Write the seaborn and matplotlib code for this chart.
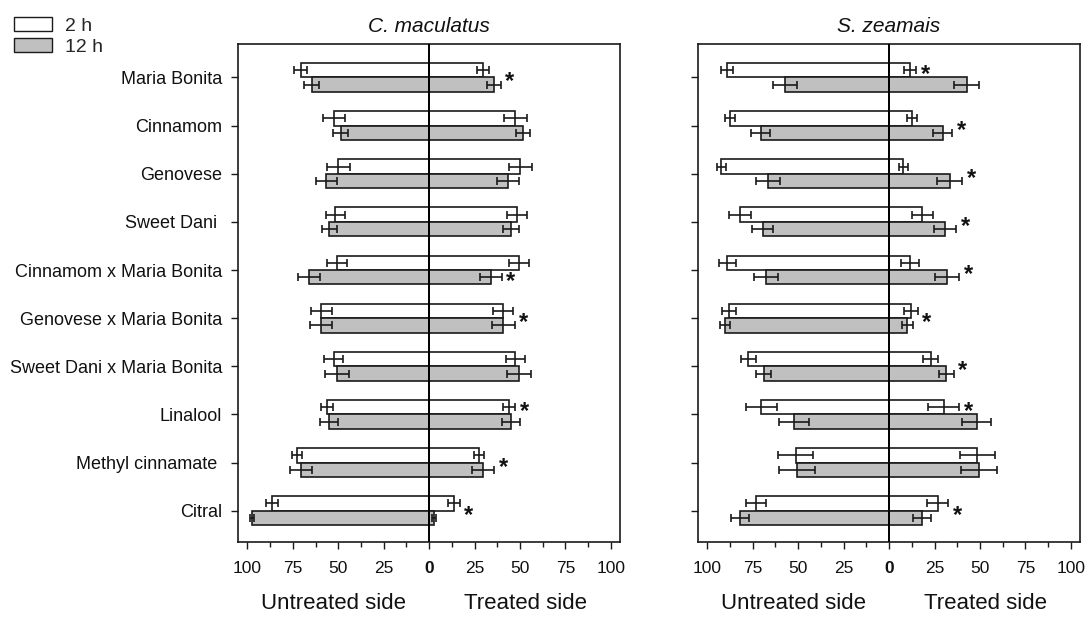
import numpy as np
import pandas as pd
import matplotlib
matplotlib.use("Agg")
import matplotlib.pyplot as plt
import matplotlib.transforms as mtransforms
from matplotlib.patches import Patch
import seaborn as sns

# ---------------- data ----------------
categories = ["Maria Bonita", "Cinnamom", "Genovese", "Sweet Dani ",
              "Cinnamom x Maria Bonita", "Genovese x Maria Bonita",
              "Sweet Dani x Maria Bonita", "Linalool", "Methyl cinnamate ",
              "Citral"]
times = ["2 h", "12 h"]
titles = ["C. maculatus", "S. zeamais"]
xtick_values = [-100, -75, -50, -25, 0, 25, 50, 75, 100]
xtick_labels = ["100", "75", "50", "25", "0", "25", "50", "75", "100"]

# C. maculatus
cm_untreated_2h = [70.6, 52.5, 49.9, 51.7, 50.6, 59.3, 52.5, 56.1, 72.5, 86.6]
cm_untreated_2h_err = [3.6, 6.1, 6.1, 5.3, 5.4, 5.6, 5.2, 3.3, 2.8, 3.2]
cm_treated_2h = [29.7, 47.5, 50.1, 48.3, 49.7, 40.9, 47.5, 44.2, 27.5, 13.6]
cm_treated_2h_err = [3.5, 6.2, 6.3, 5.4, 5.5, 5.5, 5.4, 3.3, 2.8, 3.1]
cm_untreated_12h = [64.6, 48.6, 56.5, 55.0, 65.9, 59.3, 50.6, 55.0, 70.5, 97.4]
cm_untreated_12h_err = [4.0, 4.1, 6.0, 4.2, 6.0, 6.1, 6.6, 4.9, 6.0, 1.2]
cm_treated_12h = [35.6, 51.6, 43.5, 45.0, 34.1, 40.9, 49.7, 45.0, 29.7, 2.8]
cm_treated_12h_err = [3.8, 4.0, 6.0, 4.2, 5.9, 6.1, 6.6, 4.8, 6.0, 1.1]
cm_stars = ["both", None, None, None, "12 h", "both", None, "2 h", "both", "both"]

# S. zeamais
sz_untreated_2h = [89.0, 87.5, 92.3, 82.0, 89.0, 88.1, 77.4, 70.3, 51.4, 73.4]
sz_untreated_2h_err = [3.3, 2.8, 2.3, 5.9, 4.5, 3.8, 3.9, 8.4, 9.7, 5.6]
sz_treated_2h = [11.4, 12.7, 7.9, 18.2, 11.4, 11.9, 22.8, 30.1, 48.6, 26.8]
sz_treated_2h_err = [3.4, 2.8, 2.5, 5.8, 4.8, 3.8, 3.9, 8.6, 9.8, 5.7]
sz_untreated_12h = [57.2, 70.6, 66.8, 69.5, 67.9, 90.1, 69.0, 52.1, 50.8, 82.0]
sz_untreated_12h_err = [6.8, 5.3, 6.7, 5.8, 6.7, 2.7, 4.2, 8.2, 9.9, 4.8]
sz_treated_12h = [42.6, 29.4, 33.4, 30.8, 32.1, 10.1, 31.4, 48.1, 49.5, 18.2]
sz_treated_12h_err = [7.0, 5.3, 6.8, 6.0, 6.6, 2.8, 4.2, 8.2, 10.0, 4.8]
sz_stars = ["2 h", "both", "both", "both", "both", "both", "both", "2 h", None, "both"]

panels = [
    dict(title=titles[0],
         u={"2 h": cm_untreated_2h, "12 h": cm_untreated_12h},
         ue={"2 h": cm_untreated_2h_err, "12 h": cm_untreated_12h_err},
         t={"2 h": cm_treated_2h, "12 h": cm_treated_12h},
         te={"2 h": cm_treated_2h_err, "12 h": cm_treated_12h_err},
         stars=cm_stars),
    dict(title=titles[1],
         u={"2 h": sz_untreated_2h, "12 h": sz_untreated_12h},
         ue={"2 h": sz_untreated_2h_err, "12 h": sz_untreated_12h_err},
         t={"2 h": sz_treated_2h, "12 h": sz_treated_12h},
         te={"2 h": sz_treated_2h_err, "12 h": sz_treated_12h_err},
         stars=sz_stars),
]

# ---------------- style ----------------
sns.set_theme(style="ticks")
plt.rcParams["font.family"] = ["Liberation Sans", "DejaVu Sans"]

EDGE = "#1a1a1a"
palette = {"2 h": "#ffffff", "12 h": "#c0c0c0"}
BAR_W = 0.6
offsets = {"2 h": -BAR_W / 4, "12 h": BAR_W / 4}

fig = plt.figure(figsize=(10.91, 6.21), dpi=100)
ax_rects = [[0.2184, 0.1272, 0.3499, 0.8015], [0.6400, 0.1272, 0.3499, 0.8015]]

for k, (rect, p) in enumerate(zip(ax_rects, panels)):
    ax = fig.add_axes(rect)
    rows = []
    for i, c in enumerate(categories):
        for t in times:
            rows.append(dict(cat=c, time=t, untreated=-p["u"][t][i], treated=p["t"][t][i]))
    df = pd.DataFrame(rows)
    for col in ["untreated", "treated"]:
        sns.barplot(data=df, y="cat", x=col, hue="time", order=categories,
                    hue_order=times, palette=palette, orient="h", width=BAR_W,
                    dodge=True, gap=0, errorbar=None, edgecolor=EDGE,
                    linewidth=1.2, saturation=1, legend=False, ax=ax, zorder=2)
    pos = np.arange(len(categories))
    for t in times:
        y = pos + offsets[t]
        ax.errorbar(x=-np.array(p["u"][t]), y=y, xerr=p["ue"][t], fmt="none",
                    ecolor=EDGE, elinewidth=1.2, capsize=3, capthick=1.2, zorder=3)
        ax.errorbar(x=np.array(p["t"][t]), y=y, xerr=p["te"][t], fmt="none",
                    ecolor=EDGE, elinewidth=1.2, capsize=3, capthick=1.2, zorder=3)
    ax.axvline(0, color="black", lw=1.4, zorder=4)

    # significance stars
    star_tr = mtransforms.offset_copy(ax.transData, fig=fig, x=0, y=-4.5, units="dots")
    for i, s in enumerate(p["stars"]):
        if s is None:
            continue
        if s == "both":
            xe = max(p["t"][t][i] + p["te"][t][i] for t in times)
            ys = i
        else:
            xe = p["t"][s][i] + p["te"][s][i]
            ys = i + offsets[s]
        ax.text(xe + 5, ys, "*", ha="center", va="center", fontsize=17,
                fontweight="bold", color="#111111", transform=star_tr, zorder=5)

    ax.set_xlim(-105, 105)
    ax.set_ylim(len(categories) - 0.35, -0.69)
    ax.set_xlabel("")
    ax.set_ylabel("")
    ax.set_xticks(xtick_values)
    ax.set_xticklabels(xtick_labels)
    for lab in ax.get_xticklabels():
        if lab.get_text() == "0":
            lab.set_fontweight("bold")
    ax.set_xticks(np.arange(-87.5, 100, 25), minor=True)
    ax.tick_params(axis="x", which="major", length=5, width=1.0, pad=8.5,
                   labelsize=12.5, color=EDGE, labelcolor="#111111")
    ax.tick_params(axis="x", which="minor", length=3.5, width=1.0, color=EDGE)
    ax.tick_params(axis="y", which="major", length=5, width=1.0, pad=6.5,
                   labelsize=13, color=EDGE, labelcolor="#111111")
    ax.set_yticks(pos)
    if k == 0:
        ax.set_yticklabels(categories)
    else:
        ax.set_yticklabels([])
    for sp in ax.spines.values():
        sp.set_visible(True)
        sp.set_linewidth(1.2)
        sp.set_color(EDGE)
    ax.set_title(p["title"], style="italic", fontsize=15, pad=9, color="#111111")

    btr = mtransforms.blended_transform_factory(ax.transData, ax.transAxes)
    ax.text(-52.5, -0.1346, "Untreated side", transform=btr, ha="center",
            va="baseline", fontsize=16, color="#111111")
    ax.text(53, -0.1346, "Treated side", transform=btr, ha="center",
            va="baseline", fontsize=16, color="#111111")

handles = [Patch(facecolor=palette[t], edgecolor=EDGE, linewidth=1.0, label=t) for t in times]
fig.legend(handles=handles, loc="upper left", bbox_to_anchor=(14 / 1091, 1 - 17 / 621),
           frameon=False, fontsize=14, handlelength=1.96, handleheight=0.77,
           handletextpad=0.65, labelspacing=0.15, borderpad=0, borderaxespad=0)

fig.savefig("out.png", dpi=100)
